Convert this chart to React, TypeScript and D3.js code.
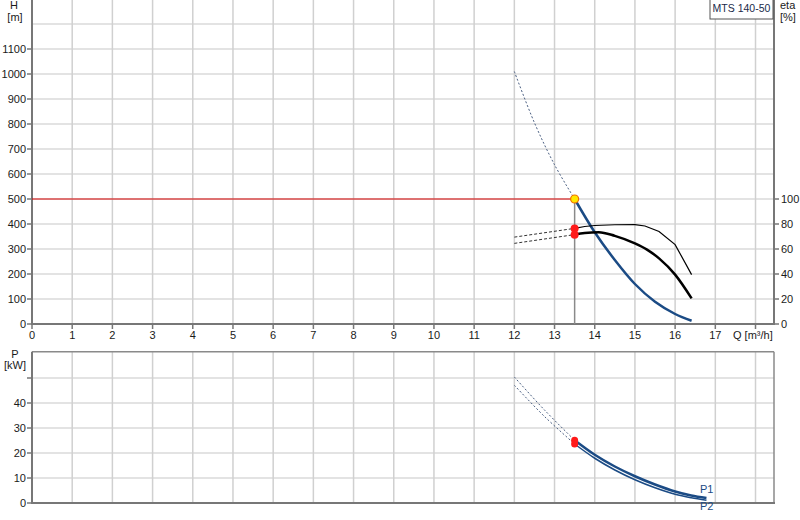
import React from "react";
import * as d3 from "d3";

// Pump curve data (MTS 140-50)
const qTicks = [0, 1, 2, 3, 4, 5, 6, 7, 8, 9, 10, 11, 12, 13, 14, 15, 16, 17];
const hTicks = [0, 100, 200, 300, 400, 500, 600, 700, 800, 900, 1000, 1100];
const etaTicks = [0, 20, 40, 60, 80, 100];
const pTicks = [0, 10, 20, 30, 40];

const hQ = [13.5, 14, 14.5, 15, 15.5, 16, 16.41];
const hVal = [500, 367, 256, 160, 89, 40, 13];
const hDashQ = [12, 12.5, 13, 13.5];
const hDashVal = [1010, 805, 637, 500];

const etaTotQ = [13.5, 13.75, 14, 14.5, 15, 15.25, 15.6, 16, 16.41];
const etaTotVal = [76.5, 78, 78.8, 79.4, 79.5, 78.4, 74, 63.5, 39.5];
const etaPumpQ = [13.5, 13.75, 14.1, 14.5, 15, 15.3, 15.6, 16, 16.41];
const etaPumpVal = [71.5, 72.8, 73.5, 70.5, 64.5, 59.5, 52.5, 39.5, 20.5];
const etaDashQ = [12, 13.5];
const etaTotDash = [69.5, 76.5];
const etaPumpDash = [64.5, 71.5];

const pQ = [13.5, 14, 14.5, 15, 15.5, 16, 16.4, 16.78];
const p1Val = [25.1, 19.3, 14.6, 10.7, 7.4, 4.6, 3.0, 2.0];
const p2Val = [23.6, 17.9, 13.2, 9.3, 6.1, 3.5, 2.1, 1.1];
const pDashQ = [12, 12.75, 13.5];
const p1Dash = [50.4, 37.2, 25.1];
const p2Dash = [47.1, 34.6, 23.6];

const dutyQ = 13.5;
const dutyH = 500;

const BLUE = "#1b4b85";
const FONT = "'Liberation Sans', Arial, sans-serif";

const x = d3.scaleLinear().domain([0, 18.46]).range([32, 774]);
const yH = d3.scaleLinear().domain([0, 1300]).range([324, -1]);
const yEta = d3.scaleLinear().domain([0, 260]).range([324, -1]);
const yP = d3.scaleLinear().domain([0, 60.5]).range([503, 351.75]);

const zip = (xs: number[], ys: number[]) => xs.map((q, i) => [q, ys[i]] as [number, number]);

const path = (
  xs: number[],
  ys: number[],
  y: d3.ScaleLinear<number, number>,
  curve: d3.CurveFactory = d3.curveCatmullRom
) =>
  d3
    .line<[number, number]>()
    .x((d) => x(d[0]))
    .y((d) => y(d[1]))
    .curve(curve)(zip(xs, ys)) as string;

const App: React.FC = () => {
  const gridQ = d3.range(1, 19);
  const gridH = d3.range(100, 1300, 100);
  const gridP = d3.range(10, 60, 10);
  const txt = { fontFamily: FONT, fontSize: 11, fill: "#1a1a1a" } as const;

  return (
    <svg
      width={800}
      height={520}
      style={{ position: "absolute", left: 0, top: 0, background: "#fff" }}
    >
      {/* ---------- top panel: H / eta ---------- */}
      {gridH.map((h) => (
        <line key={"gh" + h} x1={x(0)} x2={774} y1={yH(h)} y2={yH(h)} stroke="#e3e3e3" strokeWidth={2} />
      ))}
      {gridQ.map((q) => (
        <line key={"gq" + q} x1={x(q)} x2={x(q)} y1={0} y2={324} stroke="#d0d0d0" strokeWidth={1.5} />
      ))}

      {/* left axis */}
      <line x1={32} x2={32} y1={0} y2={324} stroke="#777" strokeWidth={2} />
      {hTicks.map((h) => (
        <g key={"th" + h}>
          <line x1={27} x2={32} y1={yH(h)} y2={yH(h)} stroke="#777" strokeWidth={1.5} />
          <text x={26} y={yH(h) + 4} textAnchor="end" {...txt}>
            {h}
          </text>
        </g>
      ))}
      <text x={14} y={9} textAnchor="middle" {...txt}>H</text>
      <text x={15} y={21} textAnchor="middle" {...txt}>[m]</text>

      {/* right axis */}
      <line x1={774} x2={774} y1={0} y2={324} stroke="#777" strokeWidth={2} />
      {etaTicks.map((e) => (
        <g key={"te" + e}>
          <line x1={774} x2={779} y1={yEta(e)} y2={yEta(e)} stroke="#777" strokeWidth={1.5} />
          <text x={781} y={yEta(e) + 4} {...txt}>
            {e}
          </text>
        </g>
      ))}
      <text x={780} y={9} {...txt}>eta</text>
      <text x={780} y={21} {...txt}>[%]</text>

      {/* x axis */}
      <line x1={31} x2={775} y1={324} y2={324} stroke="#777" strokeWidth={2} />
      {[...qTicks, 18].map((q) => (
        <line key={"tq" + q} x1={x(q)} x2={x(q)} y1={324} y2={329} stroke="#777" strokeWidth={1.5} />
      ))}
      {qTicks.map((q) => (
        <text key={"lq" + q} x={x(q)} y={339} textAnchor="middle" {...txt}>
          {q}
        </text>
      ))}
      <text x={733} y={339} {...txt}>
        Q [m³/h]
      </text>

      {/* legend box */}
      <rect x={710} y={-1} width={63} height={20} fill="#fff" stroke="#555" strokeWidth={1} />
      <text x={741.5} y={12} textAnchor="middle" fontFamily={FONT} fontSize={10.5} fill="#1a2a4a">
        MTS 140-50
      </text>

      {/* duty point guides */}
      <line x1={x(0)} x2={x(dutyQ)} y1={yH(dutyH)} y2={yH(dutyH)} stroke="#d80000" strokeWidth={1} />
      <line x1={x(dutyQ)} x2={x(dutyQ)} y1={yH(dutyH)} y2={yH(0)} stroke="#8a8a8a" strokeWidth={1.5} />

      {/* H curve */}
      <path d={path(hDashQ, hDashVal, yH)} fill="none" stroke="#4a5f82" strokeWidth={1} strokeDasharray="2,2" />
      <path d={path(hQ, hVal, yH)} fill="none" stroke={BLUE} strokeWidth={2.5} />

      {/* eta curves */}
      <path d={path(etaDashQ, etaTotDash, yEta, d3.curveLinear)} fill="none" stroke="#333" strokeWidth={1} strokeDasharray="3,2" />
      <path d={path(etaDashQ, etaPumpDash, yEta, d3.curveLinear)} fill="none" stroke="#333" strokeWidth={1} strokeDasharray="3,2" />
      <path d={path(etaTotQ, etaTotVal, yEta, d3.curveLinear)} fill="none" stroke="#000" strokeWidth={1.2} />
      <path d={path(etaPumpQ, etaPumpVal, yEta, d3.curveMonotoneX)} fill="none" stroke="#000" strokeWidth={2.5} />
      <circle cx={x(dutyQ)} cy={yEta(etaTotVal[0])} r={4} fill="#ff1a1a" />
      <circle cx={x(dutyQ)} cy={yEta(etaPumpVal[0])} r={4} fill="#ff1a1a" />
      <circle cx={x(dutyQ)} cy={yH(dutyH)} r={4} fill="#ffe800" stroke="#f07000" strokeWidth={1.2} />

      {/* ---------- bottom panel: P ---------- */}
      {gridP.map((p) => (
        <line key={"gp" + p} x1={x(0)} x2={774} y1={yP(p)} y2={yP(p)} stroke="#e3e3e3" strokeWidth={2} />
      ))}
      {gridQ.map((q) => (
        <line key={"gpq" + q} x1={x(q)} x2={x(q)} y1={yP(60.5)} y2={yP(0)} stroke="#d0d0d0" strokeWidth={1.5} />
      ))}
      <line x1={32} x2={774} y1={yP(60.5)} y2={yP(60.5)} stroke="#8a8a8a" strokeWidth={1.5} />
      <line x1={774} x2={774} y1={yP(60.5)} y2={yP(0)} stroke="#8a8a8a" strokeWidth={1.5} />
      <line x1={32} x2={32} y1={yP(60.5)} y2={yP(0)} stroke="#777" strokeWidth={2} />
      <line x1={31} x2={775} y1={yP(0)} y2={yP(0)} stroke="#777" strokeWidth={2} />
      {[...pTicks, 50].map((p) => (
        <line key={"tp" + p} x1={27} x2={32} y1={yP(p)} y2={yP(p)} stroke="#777" strokeWidth={1.5} />
      ))}
      {pTicks.map((p) => (
        <text key={"lp" + p} x={26} y={yP(p) + 4} textAnchor="end" {...txt}>
          {p}
        </text>
      ))}
      <text x={15} y={358} textAnchor="middle" {...txt}>P</text>
      <text x={15} y={369} textAnchor="middle" {...txt}>[kW]</text>

      <path d={path(pDashQ, p1Dash, yP)} fill="none" stroke="#4a5f82" strokeWidth={1} strokeDasharray="2,2" />
      <path d={path(pDashQ, p2Dash, yP)} fill="none" stroke="#4a5f82" strokeWidth={1} strokeDasharray="2,2" />
      <path d={path(pQ, p1Val, yP)} fill="none" stroke={BLUE} strokeWidth={2.5} />
      <path d={path(pQ, p2Val, yP)} fill="none" stroke={BLUE} strokeWidth={1.5} />
      <circle cx={x(dutyQ)} cy={yP(p1Val[0])} r={3.5} fill="#ff1a1a" />
      <circle cx={x(dutyQ)} cy={yP(p2Val[0])} r={3.5} fill="#ff1a1a" />
      <text x={700} y={493} fontFamily={FONT} fontSize={11} fill={BLUE}>P1</text>
      <text x={700} y={510} fontFamily={FONT} fontSize={11} fill={BLUE}>P2</text>
    </svg>
  );
};

export default App;
